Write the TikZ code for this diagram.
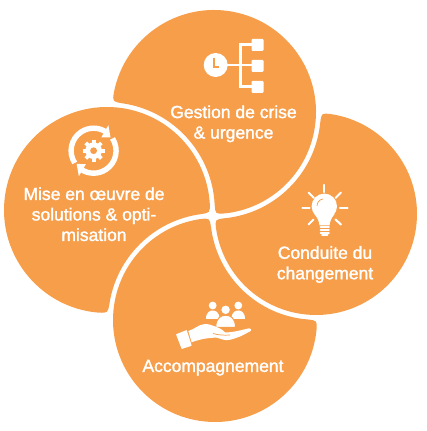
\documentclass[tikz,border=0pt]{standalone}
\usepackage{fontspec}
\newfontfamily\labelfont[FakeBold=1.6]{Liberation Sans}
\usetikzlibrary{calc}
\definecolor{petalorange}{HTML}{F79E4B}
\tikzset{
  petal/.style={fill=petalorange},
  lbl/.style={text=white,align=center,inner sep=0pt,font=\labelfont\fontsize{17.5}{20.5}\selectfont},
  icon/.style={fill=white,draw=none},
  iconline/.style={draw=white,line cap=round},
  cutline/.style={draw=petalorange,line width=0.7pt},
}
\begin{document}
\begin{tikzpicture}[x=1pt,y=1pt]
  \useasboundingbox (0,0) rectangle (427,431);
  % petales: centre/rayon/angles, puis cercle de coupe
  \def\trim{5}
  \foreach \cx/\cy/\ra/\sa/\ea/\kx/\ky/\ka/\sb/\eb in {
    214/319/102/174.1/-89.2/107/221/107.8/-2.1/87.1,
    107/221/103/270.4/-1.5/215/111/106.8/92.7/176.25,
    215/111/102/-0.3/-266.95/316/217/105.8/182.2/270.5,
    316/217/101/86.9/-176.9/214/319/106.8/-89.4/-0.6}{
    \fill[petal] ($(\cx,\cy)+(\sa-\trim:\ra)$)
      arc[start angle=\sa-\trim,end angle=\ea+\trim,radius=\ra]
      .. controls ($(\cx,\cy)+(\ea:\ra)$) .. ($(\kx,\ky)+(\sb+\trim:\ka)$)
      arc[start angle=\sb+\trim,end angle=\eb-\trim,radius=\ka]
      .. controls ($(\cx,\cy)+(\sa:\ra)$) .. cycle;
  }
  \node[lbl] (gestion) at (233.5,307.2) {Gestion de crise\\\& urgence};
  \node[lbl] (mise) at (94,216.8) {Mise en œuvre de\\solutions \& opti-\\misation};
  \node[lbl] (conduite) at (325,166.5) {Conduite du\\changement};
  \node[lbl] (accomp) at (213,63.3) {Accompagnement};
  % engrenage et fleches
  \begin{scope}[shift={(93.6,280.3)}]
    \foreach \r in {0,180}{
      \begin{scope}[rotate=\r]
        \draw[draw=white,line width=5.4pt] (213:22.5) arc[start angle=213,end angle=58,radius=22.5];
        \fill[icon] (60:29.5) -- (60:15.5) -- (38:21.5) -- cycle;
      \end{scope}
    }
    \foreach \r in {0,45,...,315}
      \fill[icon,rotate=\r] (-1.9,0) rectangle (1.9,11);
    \fill[icon] (0,0) circle (8.3);
    \fill[petal] (0,0) circle (3.4);
  \end{scope}
  % reperes en pixels pour les autres icones
  \begin{scope}[shift={(0,431)},y=-1pt]
    % horloge et arbre
    \fill[icon] (215.7,65) circle (12);
    \draw[draw=petalorange,line width=1.4pt] (214,58) -- (214,67) -- (219,67);
    \draw[draw=white,line width=2.6pt] (226,65) -- (252,65);
    \draw[draw=white,line width=3pt] (252,45) -- (240,45) -- (240,86.5) -- (252,86.5);
    \foreach \y in {39,60,81}
      \fill[icon,rounded corners=1pt] (251.5,\y) rectangle (263.5,\y+12);
    % ampoule
    \fill[icon] (324.3,206.3) circle (12.7);
    \fill[icon] (314.5,214) .. controls (318,219) and (319,221) .. (319.5,225.5)
      -- (329.5,225.5) .. controls (330,221) and (331,219) .. (334.5,214) -- cycle;
    \draw[draw=petalorange,line width=0.7pt] (317,206) .. controls (317.3,202) and (319.5,199.5) .. (323,199);
    \foreach \y in {227.2,230,232.8}
      \draw[iconline,line width=1.9pt] (320.5,\y) -- (329,\y);
    \draw[iconline,line width=2pt] (322,235) -- (327.5,235);
    \foreach \ax/\ay/\bx/\by in {324.3/185/324.3/192,302.5/208/309.5/208,340/208/347.5/208,
      308.5/192.5/314/198,341/192.5/335.5/198,308.5/224.5/313.5/219.5,341/224.5/335.5/219.5}
      \draw[iconline,line width=2.1pt] (\ax,\ay) -- (\bx,\by);
    % personnes
    \fill[icon] (212.7,305.5) circle (3.9);
    \fill[icon] (238.3,305.5) circle (3.9);
    \fill[icon] (206,319) .. controls (206,312) and (210,310.5) .. (212.7,310.5)
      .. controls (215.5,310.5) and (219.5,312) .. (219.5,319) -- cycle;
    \fill[icon] (231.5,319) .. controls (231.5,312) and (235.5,310.5) .. (238.3,310.5)
      .. controls (241,310.5) and (245,312) .. (245,319) -- cycle;
    \fill[icon,draw=petalorange,line width=1pt] (225.6,309.8) circle (4.9);
    \fill[icon,draw=petalorange,line width=1pt] (215.7,327.5) .. controls (215.7,318) and (221,315.2) .. (225.6,315.2)
      .. controls (230.5,315.2) and (235.5,318) .. (235.5,327.5) -- cycle;
    % main
    \fill[icon,rounded corners=0.5pt] (176,334.3) -- (186.7,330) -- (191.7,345.7) -- (181.7,349) -- cycle;
    \fill[icon] (188.3,331) .. controls (195,329) and (198,325) .. (203.3,324.3)
      .. controls (208,323.5) and (211,325) .. (214,326)
      .. controls (218,327.5) and (222,329) .. (225,332.3)
      .. controls (232,333) and (243,329.5) .. (249.3,328.3)
      .. controls (251.5,328) and (251.5,330.5) .. (250.7,331)
      .. controls (245,334) and (242,336) .. (236.7,337.7)
      .. controls (232,339.5) and (228,340.5) .. (225,340)
      .. controls (221,339.5) and (219,337.7) .. (216.7,337.7)
      .. controls (210,337.5) and (200,339) .. (191.7,342.3) -- cycle;
    \draw[cutline] (213,333.5) .. controls (218,335) and (224,335.5) .. (230,335);
  \end{scope}
\end{tikzpicture}
\end{document}
